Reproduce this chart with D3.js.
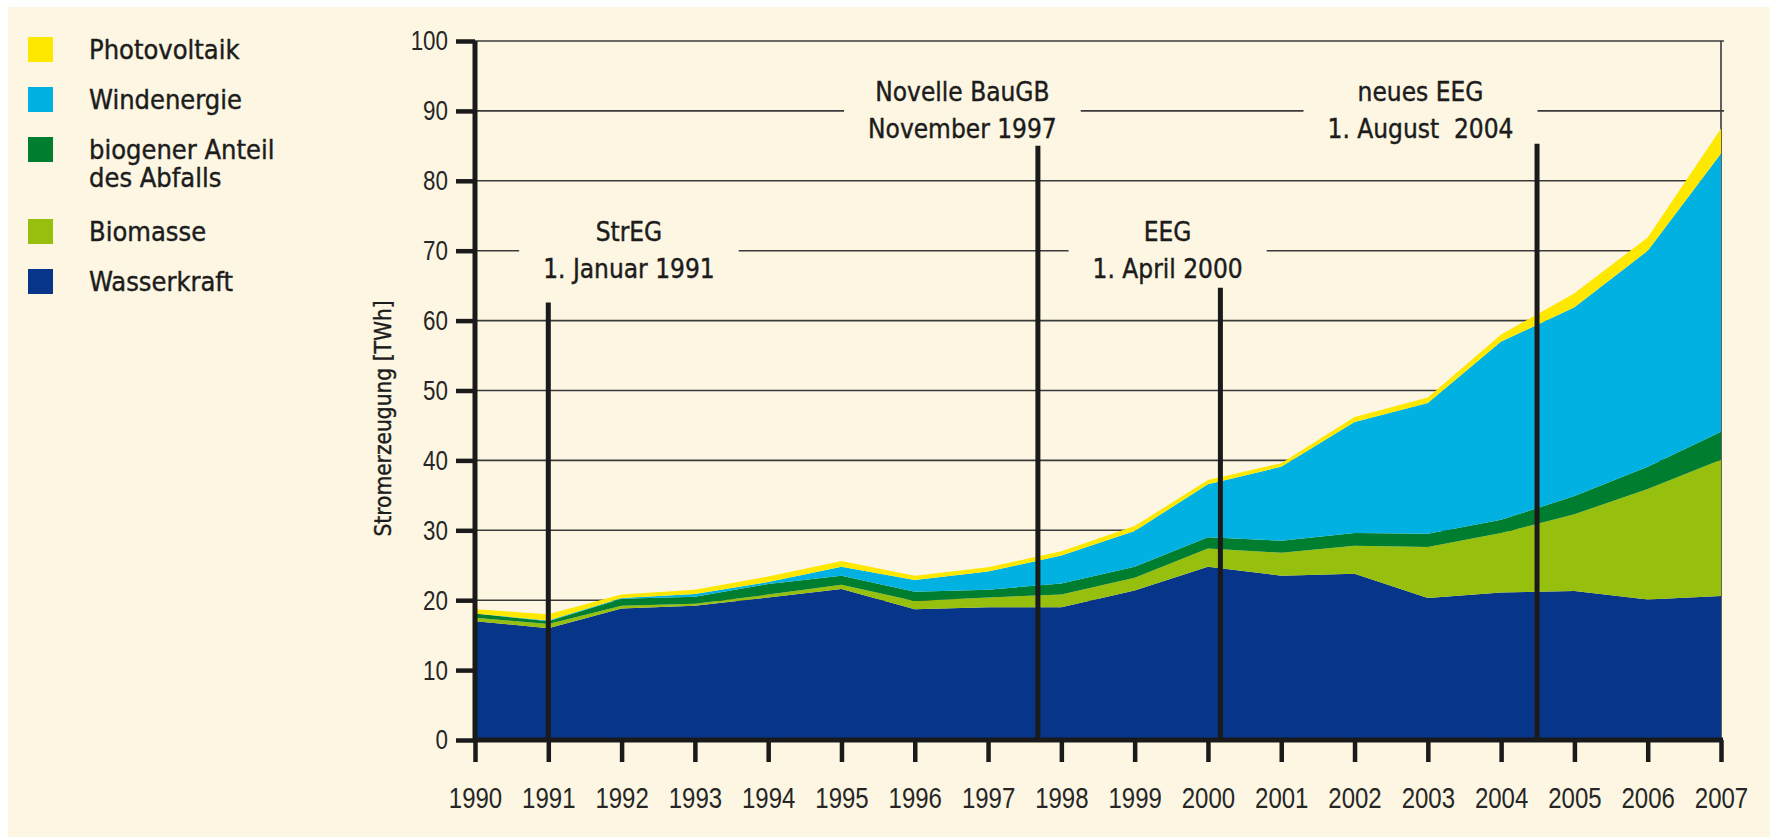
<!DOCTYPE html>
<html>
<head>
<meta charset="utf-8">
<script src="https://cdn.jsdelivr.net/npm/d3@7"></script>
<style>
html, body { margin: 0; padding: 0; background: #fff; }
svg { display: block; }
.num { font-family: "Liberation Sans", Arial, sans-serif; fill: #262626; }
.lbl { font-family: "DejaVu Sans Condensed", "DejaVu Sans", sans-serif; fill: #1c1c1c; stroke: #1c1c1c; stroke-width: 0.4px; }
</style>
</head>
<body>
<div id="chart"></div>
<script>
/* data (TWh) */
var years = [1990, 1991, 1992, 1993, 1994, 1995, 1996, 1997, 1998,
             1999, 2000, 2001, 2002, 2003, 2004, 2005, 2006, 2007],
    wasserkraft = [17.0, 16.0, 18.8, 19.2, 20.4, 21.6, 18.7, 19.0, 19.0,
                   21.4, 24.8, 23.5, 23.8, 20.3, 21.1, 21.3, 20.1, 20.6],
    biomasse = [0.5, 0.6, 0.4, 0.3, 0.4, 0.6, 1.2, 1.4, 1.8,
                1.8, 2.6, 3.3, 4.0, 7.3, 8.5, 11.0, 15.8, 19.5],
    abfall = [0.6, 0.4, 1.0, 1.0, 1.5, 1.3, 1.3, 1.1, 1.6,
              1.6, 1.6, 1.7, 1.8, 1.9, 1.9, 2.6, 3.2, 4.0],
    windenergie = [0.0, 0.1, 0.1, 0.4, 0.3, 1.3, 1.7, 2.6, 4.0,
                   5.1, 7.6, 10.6, 15.9, 18.7, 25.5, 27.0, 30.9, 39.8],
    photovoltaik = [0.6, 0.9, 0.5, 0.6, 0.8, 0.8, 0.6, 0.6, 0.6,
                    0.7, 0.6, 0.5, 0.7, 0.8, 1.0, 2.0, 1.9, 3.6],
    yTicks = [0, 10, 20, 30, 40, 50, 60, 70, 80, 90, 100],
    yTitle = "Stromerzeugung [TWh]";

// series, bottom to top
var seriesKeys = ["wasser", "biomasse", "abfall", "wind", "pv"],
    seriesNames = {
        pv: ["Photovoltaik"],
        wind: ["Windenergie"],
        abfall: ["biogener Anteil", "des Abfalls"],
        biomasse: ["Biomasse"],
        wasser: ["Wasserkraft"]
    },
    seriesColors = {
        wasser: "#06358a",
        biomasse: "#96bf0e",
        abfall: "#007e2f",
        wind: "#00b1e2",
        pv: "#ffe800"
    },
    legendOrder = ["pv", "wind", "abfall", "biomasse", "wasser"];

// laws: date of the line, its top value, label position (year, gridline value)
var events = [
    { date: 1991.0, top: 62.6, at: 1992.1, level: 70, text: ["StrEG", "1. Januar 1991"] },
    { date: 1997.68, top: 85.0, at: 1996.65, level: 90, text: ["Novelle BauGB", "November 1997"] },
    { date: 2000.17, top: 64.7, at: 1999.45, level: 70, text: ["EEG", "1. April 2000"] },
    { date: 2004.49, top: 85.3, at: 2002.9, level: 90, text: ["neues EEG", "1. August  2004"] }
];

/* layout */
var W = 1770,
    H = 837,
    bgColor = "#fdf6e2",
    numScale = 0.8, // narrow look for the numbers
    margin = { top: 41, right: 49, bottom: 97, left: 475 };

var svg = d3.select("#chart")
    .append("svg")
    .attr("width", W)
    .attr("height", H);

svg.append("rect")
    .attr("x", 8)
    .attr("y", 7)
    .attr("width", W - 8)
    .attr("height", H - 7)
    .attr("fill", bgColor);

/* scales */
var x = d3.scaleLinear()
    .domain([years[0], years[years.length - 1]])
    .range([margin.left, W - margin.right]),
    y = d3.scaleLinear()
    .domain([0, 100])
    .range([H - margin.bottom, margin.top]);

var table = years.map(function (yr, i) {
    return {
        year: yr,
        wasser: wasserkraft[i],
        biomasse: biomasse[i],
        abfall: abfall[i],
        wind: windenergie[i],
        pv: photovoltaik[i]
    };
});
var stacked = d3.stack().keys(seriesKeys)(table);

/* grid */
var grid = svg.append("g").attr("class", "grid");
grid.selectAll("line")
    .data(yTicks.filter(function (d) { return d > 0; }))
    .join("line")
    .attr("x1", x.range()[0])
    .attr("x2", function (d) { return d >= 90 ? x.range()[1] + 3 : x.range()[1]; })
    .attr("y1", function (d) { return y(d); })
    .attr("y2", function (d) { return y(d); })
    .attr("stroke", "#3a3a3a")
    .attr("stroke-width", 1.6);
grid.append("line")
    .attr("x1", x.range()[1])
    .attr("x2", x.range()[1])
    .attr("y1", y(100))
    .attr("y2", y(0))
    .attr("stroke", "#3a3a3a")
    .attr("stroke-width", 1.6);

/* areas */
var area = d3.area()
    .x(function (d) { return x(d.data.year); })
    .y0(function (d) { return y(d[0]); })
    .y1(function (d) { return y(d[1]); });

svg.append("g")
    .attr("class", "areas")
    .selectAll("path")
    .data(stacked)
    .join("path")
    .attr("fill", function (d) { return seriesColors[d.key]; })
    .attr("d", area);

/* event labels */
var labels = svg.append("g").attr("class", "events-labels");
events.forEach(function (ev) {
    var g = labels.append("g"),
        cx = x(ev.at),
        cy = y(ev.level),
        bgRect = g.append("rect").attr("fill", bgColor),
        t = g.append("text")
        .attr("class", "lbl")
        .attr("text-anchor", "middle")
        .attr("font-size", 26)
        .style("white-space", "pre");
    t.append("tspan").attr("x", cx).attr("y", cy - 10).text(ev.text[0]);
    t.append("tspan").attr("x", cx).attr("y", cy + 27).text(ev.text[1]);
    var bb = t.node().getBBox();
    bgRect.attr("x", bb.x - 24)
        .attr("y", bb.y)
        .attr("width", bb.width + 48)
        .attr("height", bb.height);
});

/* event lines */
svg.append("g")
    .attr("class", "events")
    .selectAll("line")
    .data(events)
    .join("line")
    .attr("x1", function (d) { return x(d.date); })
    .attr("x2", function (d) { return x(d.date); })
    .attr("y1", y(0))
    .attr("y2", function (d) { return y(d.top); })
    .attr("stroke", "#1a1a1a")
    .attr("stroke-width", 5);

/* axes */
var yAxis = d3.axisLeft(y)
    .tickValues(yTicks)
    .tickSize(19)
    .tickSizeOuter(0)
    .tickPadding(8),
    xAxis = d3.axisBottom(x)
    .tickValues(years)
    .tickFormat(d3.format("d"))
    .tickSize(22)
    .tickSizeOuter(0)
    .tickPadding(25);

var gy = svg.append("g")
    .attr("transform", "translate(" + margin.left + ",0)")
    .call(yAxis);
var gx = svg.append("g")
    .attr("transform", "translate(0," + y(0) + ")")
    .call(xAxis);

[gx, gy].forEach(function (g) {
    g.select(".domain").attr("stroke", "#1a1a1a").attr("stroke-width", 5);
    g.selectAll(".tick line").attr("stroke", "#1a1a1a").attr("stroke-width", 4.5);
    g.selectAll(".tick text")
        .attr("class", "num")
        .attr("font-size", gx === g ? 30 : 28)
        .attr("transform", "scale(" + numScale + ",1)");
});
gy.selectAll(".tick text").attr("x", -27 / numScale);
gx.select(".domain").attr("d", "M" + (x.range()[0] - 2) + ",0H" + (x.range()[1] + 2));
gy.select(".domain").attr("d", "M0," + (y(0) + 2) + "V" + y(100));

svg.append("text")
    .attr("class", "lbl")
    .attr("transform", "translate(391," + y(46) + ") rotate(-90)")
    .attr("text-anchor", "middle")
    .attr("font-size", 22.5)
    .text(yTitle);

/* legend */
var legend = svg.append("g").attr("class", "legend"),
    ly = 37;
legendOrder.forEach(function (k) {
    var lines = seriesNames[k];
    legend.append("rect")
        .attr("x", 28)
        .attr("y", ly)
        .attr("width", 25)
        .attr("height", 25)
        .attr("fill", seriesColors[k]);
    var t = legend.append("text")
        .attr("class", "lbl")
        .attr("font-size", 27);
    lines.forEach(function (s, i) {
        t.append("tspan")
            .attr("x", 89)
            .attr("y", ly + 22 + i * 28)
            .text(s);
    });
    ly += 50 + (lines.length - 1) * 32;
});
</script>
</body>
</html>
